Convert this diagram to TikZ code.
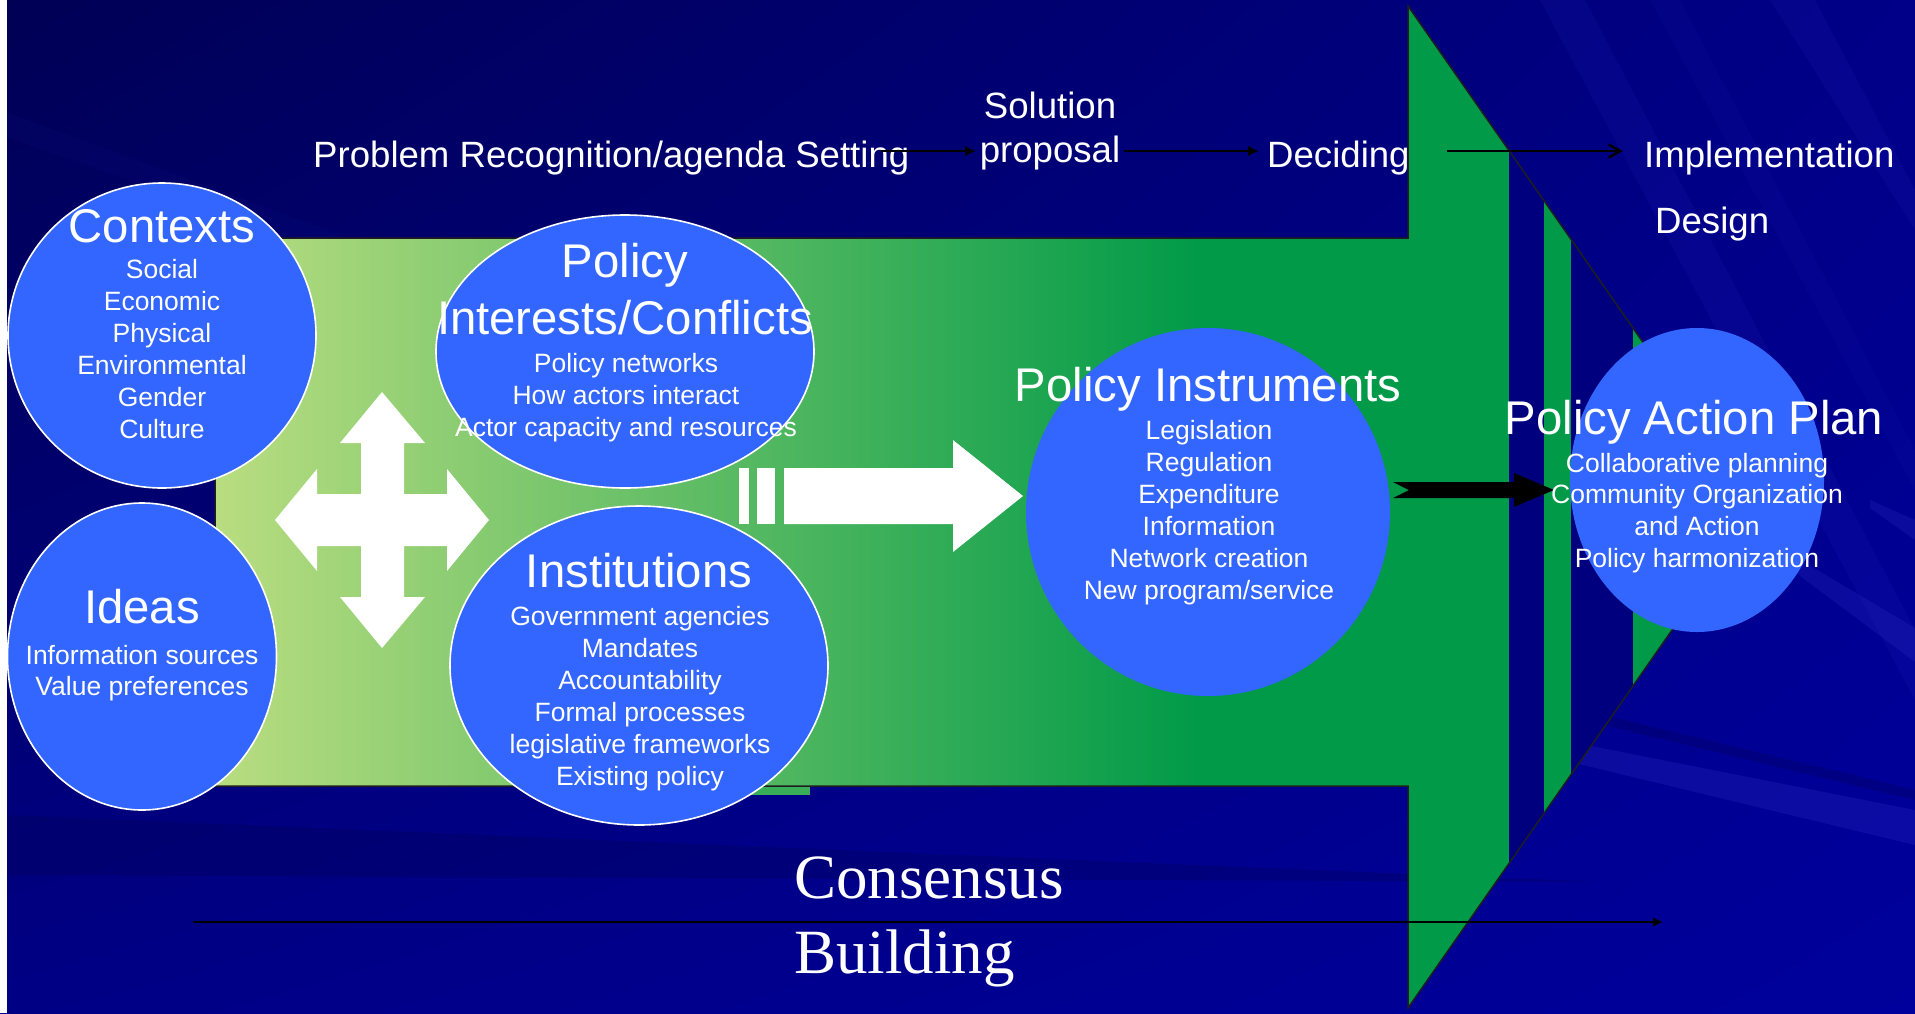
\documentclass[tikz,border=0pt]{standalone}
\usepackage{fontspec}
\setmainfont{Liberation Sans}
\newfontfamily\serifcb{Liberation Serif}
\usetikzlibrary{shapes.geometric,arrows.meta,calc,shadings}
\definecolor{bgUL}{HTML}{000055}
\definecolor{bgUR}{HTML}{000088}
\definecolor{bgLL}{HTML}{000085}
\definecolor{bgLR}{HTML}{00009C}
\definecolor{navyband}{HTML}{00007E}
\definecolor{raylight}{HTML}{3A3AD0}
\definecolor{raydark}{HTML}{00004A}
\definecolor{bubblue}{HTML}{3366FF}
\definecolor{glight}{HTML}{B9DD80}
\definecolor{gdark}{HTML}{009A48}
\definecolor{edge}{HTML}{1E1E1E}
\begin{document}
\begin{tikzpicture}[x=1pt,y=-1pt,
  bubble/.style={ellipse, fill=bubblue, inner sep=0pt},
  rim/.style={draw=white, line width=1.6pt},
  ttl/.style={text=white, font=\fontsize{47.3}{56}\selectfont, inner sep=0pt, anchor=base},
  itm/.style={text=white, font=\fontsize{26.5}{32}\selectfont, inner sep=0pt, anchor=base},
  lbl/.style={text=white, font=\fontsize{36.6}{44}\selectfont, inner sep=0pt, anchor=base west},
  flow/.style={draw=black, line width=2.6pt, -{Latex[length=11pt,width=11pt]}},
  openflow/.style={draw=black, line width=2.6pt, -{Straight Barb[length=12pt,width=13pt,line width=2.4pt]}},
  ray/.style={fill=raylight, opacity=0.1},
]
\useasboundingbox (0,0) rectangle (1915,1013);
% background
\shade[upper left=bgUL, upper right=bgUR, lower left=bgLL, lower right=bgLR] (0,0) rectangle (1915,1013);
% subtle rays
\fill[ray] (1540,0) -- (1585,0) -- (1915,630) -- (1915,700) -- cycle;
\fill[ray] (1770,0) -- (1815,0) -- (1915,190) -- (1915,230) -- cycle;
\fill[ray, opacity=0.06] (1650,0) -- (1680,0) -- (1915,450) -- (1915,490) -- cycle;
\fill[ray, opacity=0.05] (0,110) -- (0,135) -- (560,330) -- (560,315) -- cycle;
\fill[ray, opacity=0.22] (1500,728) -- (1915,810) -- (1915,845) -- (1500,745) -- cycle;
\fill[ray, opacity=0.2] (1760,536) -- (1915,628) -- (1915,662) -- (1760,546) -- cycle;
\fill[ray, opacity=0.2] (1870,500) -- (1915,520) -- (1915,540) -- (1870,508) -- cycle;
\fill[raydark, opacity=0.25] (7,815) -- (1600,882) -- (7,875) -- cycle;
\fill[raydark, opacity=0.25] (1500,690) -- (1915,790) -- (1915,800) -- (1500,700) -- cycle;
% left white margin
\fill[white] (0,0) rectangle (7,1013);

% ---- big green arrow ----
\shade[left color=glight, right color=gdark] (215,238) rectangle (1201,786);
\fill[gdark] (1200,238) rectangle (1409,786);
\fill[gdark!70!glight] (700,786) rectangle (810,795);
\fill[gdark] (1408,6) -- (1758,507) -- (1408,1008) -- cycle;
\begin{scope}
  \clip (1408,6) -- (1758,507) -- (1408,1008) -- cycle;
  \fill[navyband] (1509,0) rectangle (1544,1013);
  \fill[navyband] (1571,0) rectangle (1633,1013);
\end{scope}
\draw[edge, line width=1.5pt, line join=miter] (215,238) -- (1408,238) -- (1408,6) -- (1758,507) -- (1408,1008) -- (1408,786) -- (215,786) -- cycle;

% ---- white four-way arrow ----
\fill[white] (382,392) -- (425,443) -- (404,443) -- (404,494) -- (447,494) -- (447,469) -- (489,520)
  -- (447,571) -- (447,546) -- (404,546) -- (404,597) -- (425,597) -- (382,648) -- (340,597)
  -- (361,597) -- (361,546) -- (317,546) -- (317,571) -- (275,520) -- (317,469) -- (317,494)
  -- (361,494) -- (361,443) -- (340,443) -- cycle;
% ---- white striped arrow ----
\fill[white] (739,468) rectangle (749,524);
\fill[white] (757,468) rectangle (775,524);
\fill[white] (784,468) -- (953,468) -- (953,440) -- (1023,496) -- (953,552) -- (953,524) -- (784,524) -- cycle;
% ---- black notched arrow ----
\fill[black] (1393,482) -- (1514,482) -- (1514,473) -- (1554,490) -- (1514,507) -- (1514,498) -- (1393,498) -- (1409,490) -- cycle;

% ---- bubbles ----
\node[bubble, rim, minimum width=308pt, minimum height=305pt] (ctx) at (162,335.5) {};
\node[bubble, rim, minimum width=269pt, minimum height=307pt] (ideas) at (142,656.5) {};
\node[bubble, rim, minimum width=378pt, minimum height=273pt] (pic) at (625,351.5) {};
\node[bubble, rim, minimum width=378pt, minimum height=319pt] (inst) at (639,665.5) {};
\node[bubble, minimum width=364pt, minimum height=368pt] (pinst) at (1208,512) {};
\node[bubble, minimum width=254pt, minimum height=304pt] (pap) at (1697,480) {};

% ---- bubble texts ----
\node[ttl] (ctx-t) at (162,242) {Contexts};
\foreach \t [count=\i] in {Social,Economic,Physical,Environmental,Gender,Culture}
  \node[itm] (ctx-\i) at (162,{278+32*(\i-1)}) {\t};

\node[ttl] (ideas-t) at (142,623) {Ideas};
\foreach \t [count=\i] in {Information sources,Value preferences}
  \node[itm] (ideas-\i) at (142,{664+31*(\i-1)}) {\t};

\node[ttl] (pic-t1) at (625,277) {Policy};
\node[ttl] (pic-t2) at (625,334) {Interests/Conflicts};
\foreach \t [count=\i] in {Policy networks,How actors interact,Actor capacity and resources}
  \node[itm] (pic-\i) at (626,{372+32*(\i-1)}) {\t};

\node[ttl] (inst-t) at (639,587) {Institutions};
\foreach \t [count=\i] in {Government agencies,Mandates,Accountability,Formal processes,legislative frameworks,Existing policy}
  \node[itm] (inst-\i) at (640,{625+32*(\i-1)}) {\t};

\node[ttl] (pinst-t) at (1208,401) {Policy Instruments};
\foreach \t [count=\i] in {Legislation,Regulation,Expenditure,Information,Network creation,New program/service}
  \node[itm] (pinst-\i) at (1209,{439+32*(\i-1)}) {\t};

\node[ttl] (pap-t) at (1694,434) {Policy Action Plan};
\foreach \t [count=\i] in {Collaborative planning,Community Organization,and Action,Policy harmonization}
  \node[itm] (pap-\i) at (1697,{472+31.7*(\i-1)}) {\t};

% ---- top stage labels ----
\node[lbl] (prob) at (313,167) {Problem Recognition/agenda Setting};
\node[lbl, anchor=base] (sol) at (1050,118) {Solution};
\node[lbl, anchor=base] (prop) at (1050,162) {proposal};
\node[lbl] (dec) at (1267,167) {Deciding};
\node[lbl] (impl) at (1644,167) {Implementation};
\node[lbl] (design) at (1655,233) {Design};

\coordinate (a1s) at (881,151);
\coordinate (a1e) at (976,151);
\coordinate (a2s) at (1124,151);
\coordinate (a2e) at (1259,151);
\coordinate (a3s) at (1447,151);
\coordinate (a3e) at (1623,151);
\draw[flow] (a1s) -- (a1e);
\draw[flow] (a2s) -- (a2e);
\draw[openflow] (a3s) -- (a3e);

% ---- consensus building ----
\node[text=white, font=\serifcb\fontsize{63}{72}\selectfont, inner sep=0pt, anchor=base west] (cons1) at (794,898) {Consensus};
\node[text=white, font=\serifcb\fontsize{63}{72}\selectfont, inner sep=0pt, anchor=base west] (cons2) at (794,973) {Building};
\coordinate (cbs) at (193,922);
\coordinate (cbe) at (1663,922);
\draw[flow, line width=2.4pt, -{Latex[length=10pt,width=10pt]}] (cbs) -- (cbe);
\end{tikzpicture}
\end{document}
